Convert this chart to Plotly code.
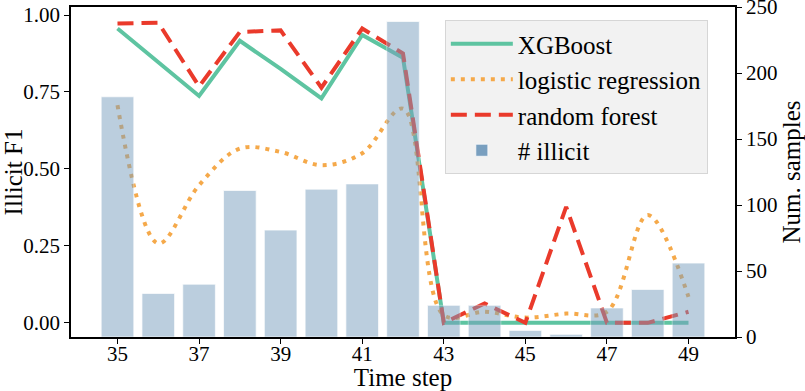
import plotly.graph_objects as go

time_steps = list(range(35, 50))
xgboost_f1 = [0.956, 0.846, 0.737, 0.916, 0.825, 0.729, 0.935, 0.861, 0.0, 0.0, 0.0, 0.0, 0.0, 0.0, 0.0]
logreg_f1 = [0.707, 0.258, 0.447, 0.566, 0.555, 0.512, 0.551, 0.696, 0.025, 0.036, 0.017, 0.030, 0.036, 0.350, 0.084]
rf_f1 = [0.972, 0.975, 0.768, 0.945, 0.950, 0.764, 0.956, 0.875, 0.0, 0.063, 0.0, 0.377, 0.0, 0.0, 0.036]
n_illicit = [182, 33, 40, 111, 81, 112, 116, 239, 24, 24, 5, 2, 22, 36, 56]
x_ticks = [35, 37, 39, 41, 43, 45, 47, 49]
f1_ticks = [0.0, 0.25, 0.5, 0.75, 1.0]
count_ticks = [0, 50, 100, 150, 200, 250]

FONT = "Liberation Serif"

fig = go.Figure()
fig.add_trace(go.Scatter(x=time_steps, y=xgboost_f1, mode="lines", name="XGBoost",
                         line=dict(color="#5ec4a1", width=4), yaxis="y",
                         legendgroup="a"))
fig.add_trace(go.Scatter(x=time_steps, y=logreg_f1, mode="lines", name="logistic regression",
                         line=dict(color="#f5a94a", width=4, dash="4px,6px", shape="spline"),
                         yaxis="y", legendgroup="b"))
fig.add_trace(go.Scatter(x=time_steps, y=rf_f1, mode="lines", name="random forest",
                         line=dict(color="#ea3a2b", width=4, dash="16px,8px"), yaxis="y",
                         legendgroup="c"))
fig.add_trace(go.Bar(x=time_steps, y=n_illicit, name="# illicit", width=0.8,
                     marker=dict(color="rgb(121,159,191)", opacity=0.5,
                                 line=dict(color="rgba(255,255,255,0.7)", width=1)),
                     yaxis="y2", legendgroup="d"))

axis_common = dict(showline=True, linecolor="black", linewidth=1.5, ticks="outside",
                   ticklen=5, tickwidth=1, tickcolor="black", showgrid=False, zeroline=False,
                   automargin=False, ticklabeloverflow="allow",
                   tickfont=dict(family=FONT, size=21, color="black"))

fig.update_layout(
    width=805, height=391,
    margin=dict(l=71, r=70, t=7, b=54),
    plot_bgcolor="white", paper_bgcolor="white",
    font=dict(family=FONT, color="black"),
    showlegend=True,
    xaxis=dict(range=[33.86, 50.14], tickvals=x_ticks, mirror=True, ticklabelstandoff=-8,
               title=dict(text="Time step", font=dict(family=FONT, size=25), standoff=7),
               **axis_common),
    yaxis=dict(range=[-0.046, 1.026], tickvals=f1_ticks, tickformat=".2f", side="left",
               title=dict(text="Illicit F1", font=dict(family=FONT, size=25), standoff=6),
               **axis_common),
    yaxis2=dict(range=[0, 250.01], tickvals=count_ticks, side="right", overlaying="y",
                title=dict(text="Num. samples", font=dict(family=FONT, size=25), standoff=6),
                **axis_common),
    legend=dict(x=0.563, y=0.9606, xanchor="left", yanchor="top",
                bgcolor="rgba(241,241,241,0.9)", bordercolor="#d6d6d6", borderwidth=1,
                font=dict(family=FONT, size=25, color="black"),
                traceorder="grouped", tracegroupgap=0, itemwidth=62),
    bargap=0.2,
)

fig.write_html("out.html", config={"displayModeBar": False},
               post_script="document.body.style.margin='0';document.body.style.padding='0';")
